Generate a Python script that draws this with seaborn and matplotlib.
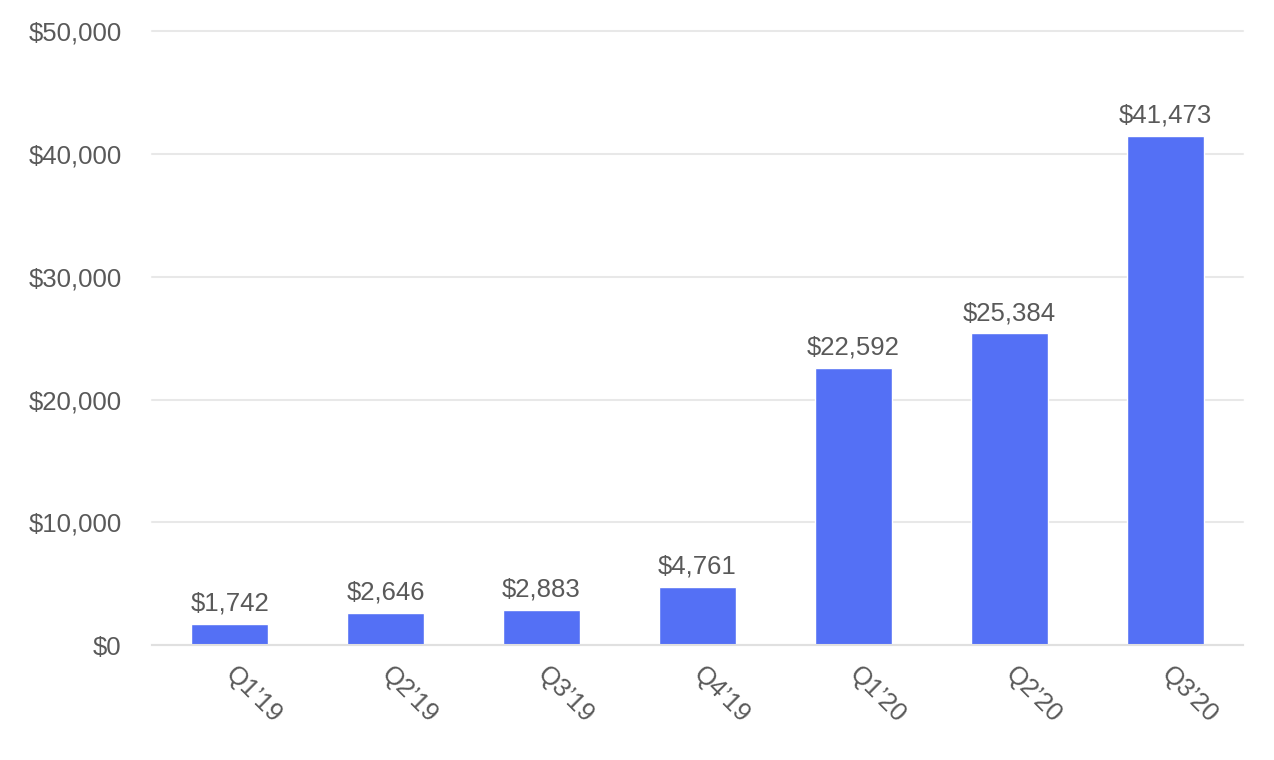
import matplotlib
matplotlib.use("Agg")
import matplotlib.pyplot as plt
import seaborn as sns
import pandas as pd
from matplotlib.ticker import FuncFormatter, MultipleLocator

categories = ["Q1\u201919", "Q2\u201919", "Q3\u201919", "Q4\u201919", "Q1\u201920", "Q2\u201920", "Q3\u201920"]
values = [1742, 2646, 2883, 4761, 22592, 25384, 41473]

sns.set_theme(style="white")
plt.rcParams['font.family'] = ['Liberation Sans', 'DejaVu Sans']

TEXT = "#595959"
BAR = "#5470F5"
FS = 18.5

df = pd.DataFrame({"quarter": categories, "value": values})

fig = plt.figure(figsize=(12.74, 7.6), dpi=100)
ax = fig.add_axes([0.119, 0.151, 0.857, 0.808])

sns.barplot(data=df, x="quarter", y="value", color=BAR, width=0.49, saturation=1, ax=ax)

ax.set_ylim(0, 50000)
ax.set_xlim(-0.5, len(categories) - 0.5)
ax.yaxis.set_major_locator(MultipleLocator(10000))
ax.yaxis.set_major_formatter(FuncFormatter(lambda v, p: f"${v:,.0f}"))
ax.grid(axis="y", color="#E8E8E8", linewidth=1.5)
for gl in ax.get_ygridlines():
    gl.set_clip_on(False)
ax.set_axisbelow(True)
for s in ["top", "right", "left"]:
    ax.spines[s].set_visible(False)
ax.spines["bottom"].set_color("#E0E0E0")
ax.spines["bottom"].set_linewidth(1.5)
ax.set_xlabel("")
ax.set_ylabel("")
ax.tick_params(axis="y", length=0, labelsize=FS, labelcolor=TEXT, pad=21.5)
ax.tick_params(axis="x", length=0, labelsize=FS, labelcolor=TEXT, pad=18)
for lbl in ax.get_xticklabels():
    lbl.set_rotation(-45)
    lbl.set_ha("left")
    lbl.set_va("center")
    lbl.set_rotation_mode("anchor")

for i, v in enumerate(values):
    ax.annotate(f"${v:,}", (i, v), xytext=(0, 6), textcoords="offset points",
                ha="center", va="bottom", fontsize=FS, color=TEXT)

fig.savefig("out.png", dpi=100)
